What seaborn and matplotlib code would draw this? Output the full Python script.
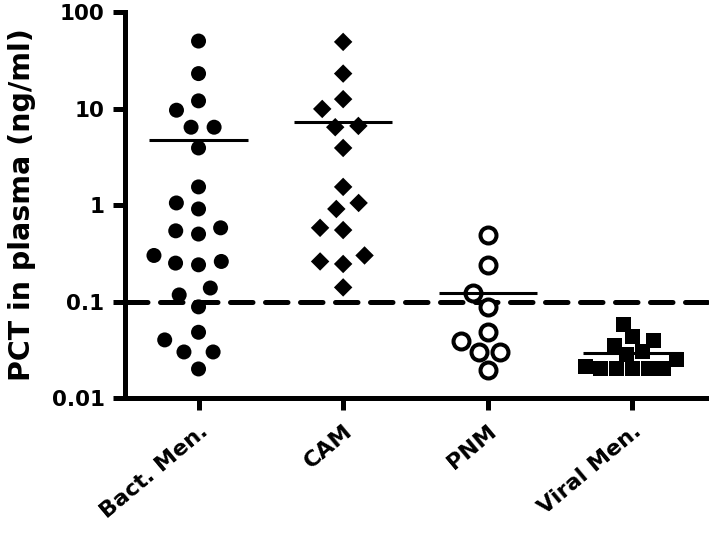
import numpy as np
import pandas as pd
import seaborn as sns
import matplotlib.pyplot as plt

groups = ['Bact. Men.', 'CAM', 'PNM', 'Viral Men.']

bact_men = [50, 23, 12, 9.6, 6.4, 6.4, 3.9, 1.54, 1.05, 0.91, 0.58, 0.50, 0.54,
            0.30, 0.25, 0.24, 0.26, 0.138, 0.117, 0.088, 0.048, 0.040, 0.030,
            0.030, 0.020]
cam = [49, 23, 12.5, 9.9, 6.6, 6.4, 3.9, 1.54, 1.05, 0.91, 0.58, 0.55, 0.30,
       0.26, 0.245, 0.14]
pnm = [0.49, 0.24, 0.123, 0.088, 0.048, 0.039, 0.030, 0.030, 0.0195]
viral_men = [0.058, 0.043, 0.039, 0.035, 0.030, 0.028, 0.025, 0.021, 0.020,
             0.020, 0.020, 0.020, 0.020]

cutoff = 0.1
y_ticks = [0.01, 0.1, 1, 10, 100]
y_ticklabels = ['0.01', '0.1', '1', '10', '100']

df = pd.concat([
    pd.DataFrame({'group': g, 'pct': v})
    for g, v in zip(groups, [bact_men, cam, pnm, viral_men])
], ignore_index=True)

sns.set_style('ticks', {'axes.edgecolor': 'black', 'text.color': 'black',
                        'axes.labelcolor': 'black', 'xtick.color': 'black',
                        'ytick.color': 'black'})
plt.rcParams['font.family'] = ['DejaVu Sans']
plt.rcParams['font.weight'] = 'bold'

fig = plt.figure(figsize=(7.09, 5.38), dpi=100)
ax = fig.add_axes([0.176, 0.2602, 0.824, 0.7175])
ax.set_yscale('log')
ax.set_ylim(0.01, 100)

# invisible edge widths only widen the swarm spacing
styles = {
    'Bact. Men.': dict(marker='o', size=10.8, color='black', edgecolor='none', linewidth=5),
    'CAM': dict(marker='D', size=9.4, color='black', edgecolor='none', linewidth=6.5),
    'PNM': dict(marker='o', size=11.5, color='white', edgecolor='black', linewidth=2.9),
    'Viral Men.': dict(marker='s', size=10.8, color='black', edgecolor='none', linewidth=0),
}

for g in groups:
    sns.swarmplot(data=df[df['group'] == g], x='group', y='pct', order=groups,
                  ax=ax, zorder=3, **styles[g])

# mean lines
means = df.groupby('group')['pct'].mean().reindex(groups)
pos = np.arange(len(groups))
ax.hlines(means.values, pos - 0.34, pos + 0.34, color='black', lw=2.2, zorder=4)

# cut-off line
ax.axhline(cutoff, color='black', lw=3.6, dashes=(4.5, 2.5),
           dash_capstyle='round', zorder=2)

ax.set_xlim(-0.51, 3.53)
ax.set_yticks(y_ticks)
ax.set_yticklabels(y_ticklabels)
ax.yaxis.set_minor_locator(plt.NullLocator())

sns.despine(ax=ax)
for s in ['left', 'bottom']:
    ax.spines[s].set_linewidth(3.6)
ax.tick_params(width=3.6, length=8.6, pad=6, color='black', labelcolor='black')
ax.tick_params(axis='y', labelsize=15.5)
ax.tick_params(axis='x', labelsize=16, pad=8)
plt.setp(ax.get_xticklabels(), rotation=40, ha='right', va='top',
         rotation_mode='anchor', fontweight='bold')
plt.setp(ax.get_yticklabels(), fontweight='bold')

ax.set_xlabel('')
ax.set_ylabel('PCT in plasma (ng/ml)', fontsize=20.5, fontweight='bold',
              labelpad=11, color='black')

fig.savefig('out.png', dpi=100)
